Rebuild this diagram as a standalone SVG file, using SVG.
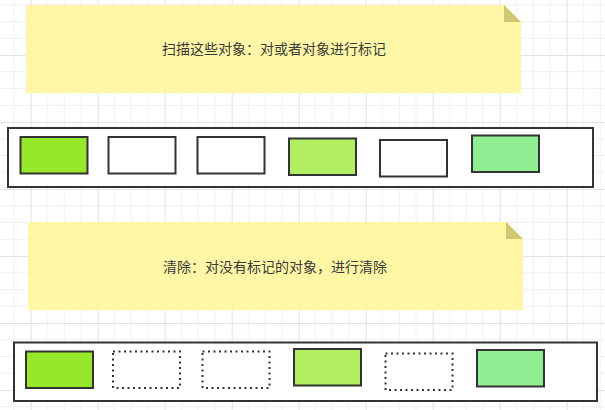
<svg xmlns="http://www.w3.org/2000/svg" width="605" height="410" viewBox="0 0 605 410">
<defs>
<pattern id="grid" patternUnits="userSpaceOnUse" x="30.7" y="55" width="67" height="67">
<path d="M16.75 0V67M33.5 0V67M50.25 0V67M0 16.75H67M0 33.5H67M0 50.25H67" stroke="#f0f0f0" stroke-width="1" fill="none"/>
<path d="M0.5 0V67M0 0.5H67" stroke="#e2e2e2" stroke-width="1" fill="none"/>
</pattern>
</defs>
<style>
.note{fill:#fff7a6}
.fold{fill:#cfc870}
.txt{font-family:"Liberation Sans","Noto Sans CJK SC",sans-serif;font-size:14px;fill:#3a3a3a;text-anchor:middle;dominant-baseline:central}
.frame{fill:#fff;stroke:#333;stroke-width:2}
.obj{stroke:#333;stroke-width:2}
.dot{fill:none;stroke:#333;stroke-width:2;stroke-dasharray:2 3.5}
.g1{fill:#97e82b}
.g2{fill:#b1ef60}
.g3{fill:#91ee93}
.w{fill:#fff}
</style>
<rect width="605" height="410" fill="#fff"/>
<rect width="605" height="410" fill="url(#grid)"/>

<g id="note1">
<path class="note" d="M26 5H504L521 22V93H26Z"/>
<path class="fold" d="M504 5L521 22H504Z"/>
<text class="txt" x="274" y="49">扫描这些对象：对或者对象进行标记</text>
</g>

<g id="heap1">
<rect class="frame" x="8" y="128" width="585" height="59"/>
<rect id="h1o1" class="obj g1" x="20.5" y="137" width="67" height="36.5"/>
<rect id="h1o2" class="obj w" x="108.5" y="137" width="67" height="36.5"/>
<rect id="h1o3" class="obj w" x="197.5" y="137" width="67" height="36.5"/>
<rect id="h1o4" class="obj g2" x="289" y="138.5" width="67" height="36.5"/>
<rect id="h1o5" class="obj w" x="380" y="140" width="67" height="36.5"/>
<rect id="h1o6" class="obj g3" x="472" y="135.5" width="67" height="36.5"/>
</g>

<g id="note2">
<path class="note" d="M28 222H506L523 239V310H28Z"/>
<path class="fold" d="M506 222L523 239H506Z"/>
<text class="txt" x="275" y="267">清除：对没有标记的对象，进行清除</text>
</g>

<g id="heap2">
<rect class="frame" x="14" y="342.5" width="583" height="58.5"/>
<rect id="h2o1" class="obj g1" x="26" y="351.5" width="67" height="36.5"/>
<rect id="h2o2" class="dot" x="113" y="351.5" width="67" height="36.5"/>
<rect id="h2o3" class="dot" x="202.5" y="351.5" width="67" height="36.5"/>
<rect id="h2o4" class="obj g2" x="294" y="349" width="67" height="36.5"/>
<rect id="h2o5" class="dot" x="385.5" y="353.5" width="67" height="36.5"/>
<rect id="h2o6" class="obj g3" x="477" y="350" width="67" height="36.5"/>
</g>

<g id="connectors"></g>
</svg>
